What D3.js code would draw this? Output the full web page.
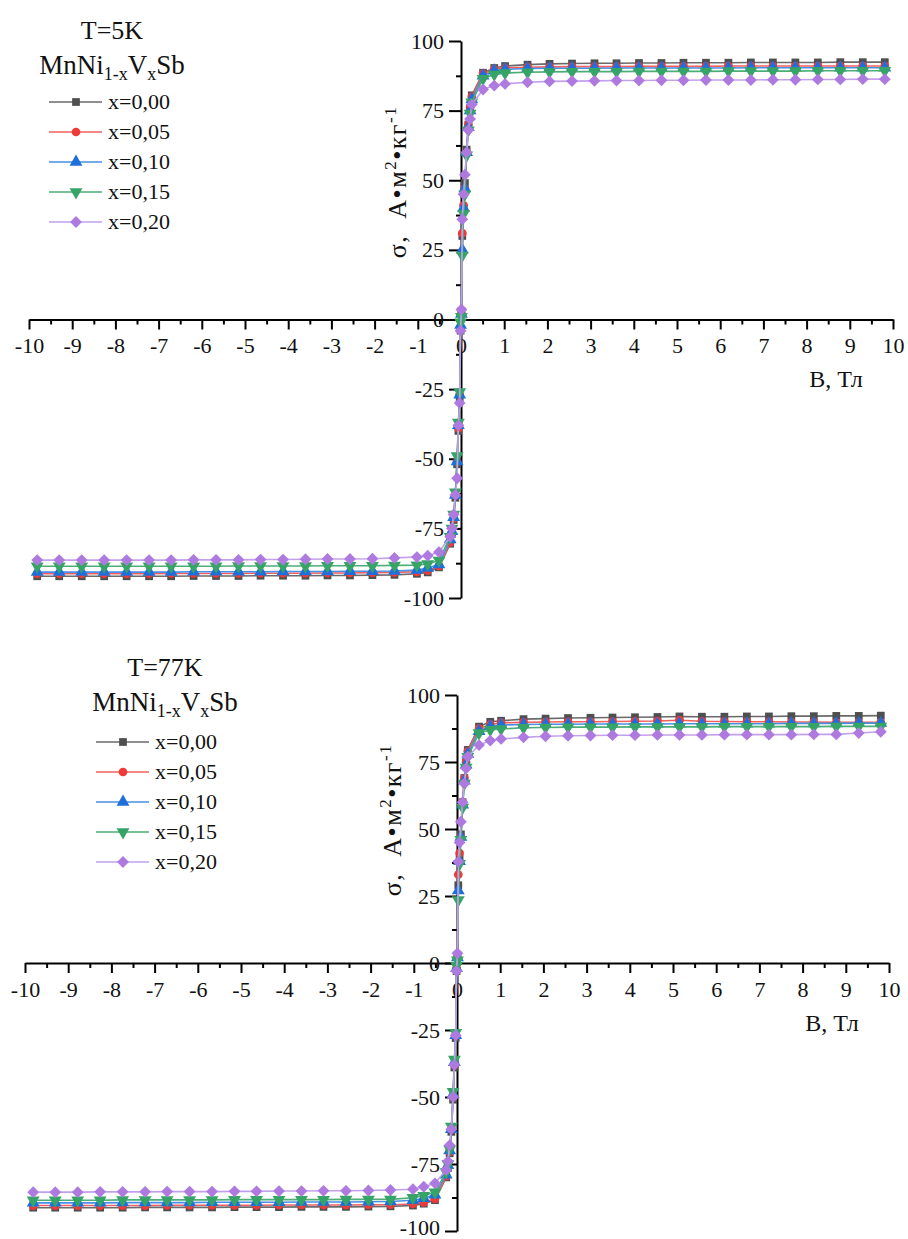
<!DOCTYPE html>
<html>
<head>
<meta charset="utf-8">
<script src="https://cdn.jsdelivr.net/npm/d3@7"></script>
<style>
  body { margin: 0; background: white; }
  svg text { font-family: "Liberation Serif", "Times New Roman", serif; fill: #111; }
</style>
</head>
<body>
<div class="display"></div>
<script>
// field points, Tl (shared by all curves)
const fieldB = [-9.81,-9.3,-8.78,-8.26,-7.74,-7.22,-6.71,-6.19,-5.67,-5.15,-4.64,-4.12,-3.6,-3.09,-2.57,-2.05,-1.54,-1.02,-0.77,-0.51,-0.25,-0.21,-0.17,-0.13,-0.09,-0.06,-0.03,-0.01,
    0.01,0.03,0.06,0.09,0.13,0.17,0.21,0.25,0.51,0.77,1.02,1.54,2.05,2.57,3.09,3.6,4.12,4.64,5.15,5.67,6.19,6.71,7.22,7.74,8.26,8.78,9.3,9.81];

const seriesNames = ['x=0,00', 'x=0,05', 'x=0,10', 'x=0,15', 'x=0,20'];

// T = 5K
const sig5K_000 = [-92.2,-92.2,-92.2,-92.2,-92.2,-92.2,-92.2,-92.1,-92.1,-92.1,-92.0,-92.0,-92.0,-91.9,-91.9,-91.8,-91.7,-91.3,-90.8,-89.0,-80.5,-77,-72,-64,-52,-40,-28,-4,
    3,30,40,49,61,70,76,80.5,88.6,90.3,91.0,91.5,91.8,91.9,92.0,92.0,92.1,92.1,92.2,92.2,92.2,92.3,92.3,92.3,92.3,92.4,92.4,92.4];
const sig5K_005 = [-91.3,-91.3,-91.3,-91.3,-91.3,-91.3,-91.2,-91.2,-91.2,-91.2,-91.1,-91.1,-91.1,-91.0,-91.0,-90.9,-90.8,-90.6,-90.2,-88.6,-80,-76.5,-71.5,-63,-51,-39,-27,-3,
    2,31,41,47,60,70,76,80,88.3,89.8,90.3,90.6,90.7,90.8,90.8,90.8,90.9,90.9,90.9,90.9,91.0,91.0,91.0,91.0,91.0,91.0,91.0,91.0];
const sig5K_010 = [-90.7,-90.7,-90.7,-90.7,-90.7,-90.7,-90.7,-90.6,-90.6,-90.6,-90.6,-90.5,-90.5,-90.5,-90.4,-90.4,-90.3,-90.0,-89.2,-88.0,-79,-76,-71,-63,-51,-38,-27,-2,
    2,25,40,47,60,69,75,79,87.5,89.3,89.8,90.1,90.2,90.2,90.2,90.3,90.3,90.3,90.3,90.3,90.3,90.4,90.4,90.4,90.4,90.4,90.4,90.4];
const sig5K_015 = [-88.6,-88.6,-88.6,-88.6,-88.6,-88.6,-88.6,-88.6,-88.6,-88.5,-88.5,-88.5,-88.5,-88.4,-88.4,-88.4,-88.3,-88.2,-87.8,-86.5,-78,-75,-70,-62,-49,-37,-26,-1,
    1,23,38,45,59,68,74,78,86.5,88.0,88.5,88.8,88.9,89.0,89.0,89.0,89.1,89.1,89.1,89.1,89.2,89.2,89.2,89.2,89.3,89.3,89.3,89.3];
const sig5K_020 = [-86.4,-86.4,-86.4,-86.4,-86.4,-86.4,-86.4,-86.3,-86.3,-86.3,-86.2,-86.2,-86.1,-86.0,-86.0,-85.9,-85.6,-85.3,-84.8,-83.5,-78,-75,-70,-63,-57,-38,-30,-4,
    3.6,36,45,52,60,68,72,77.2,82.6,84.0,84.6,85.2,85.5,85.6,85.7,85.8,85.8,85.9,85.9,86.0,86.0,86.0,86.1,86.1,86.2,86.2,86.3,86.3];

// T = 77K
const sig77K_000 = [-91.3,-91.3,-91.3,-91.3,-91.3,-91.2,-91.2,-91.2,-91.2,-91.1,-91.1,-91.1,-91.0,-91.0,-91.0,-90.9,-90.8,-90.5,-89.8,-88.5,-80,-76.5,-71,-63,-51,-39,-28,-3,
    3,29,39,48,60,69,75,79.5,88.2,90.0,90.4,91.0,91.2,91.4,91.5,91.6,91.7,91.8,92.0,91.9,91.9,92.0,92.0,92.1,92.1,92.2,92.2,92.3];
const sig77K_005 = [-90.5,-90.5,-90.5,-90.5,-90.5,-90.5,-90.4,-90.4,-90.4,-90.4,-90.4,-90.3,-90.3,-90.3,-90.3,-90.2,-90.2,-89.9,-89.3,-88.0,-79.5,-76,-70.5,-62,-50,-38,-27,-2,
    2,33,41,47,60,69,75,79,87.5,89.0,89.6,89.8,89.9,90.0,90.0,90.1,90.2,90.3,90.6,90.2,90.1,90.0,90.0,89.9,89.9,89.8,89.8,89.8];
const sig77K_010 = [-89.5,-89.5,-89.5,-89.5,-89.4,-89.4,-89.4,-89.4,-89.3,-89.3,-89.3,-89.3,-89.2,-89.2,-89.2,-89.1,-89.0,-88.5,-87.8,-86.5,-79,-75.5,-70,-62,-49,-37,-27,-2,
    2,27,38,47,59,68,74,78,86.5,88.3,88.8,89.0,89.1,89.1,89.2,89.2,89.2,89.2,89.3,89.3,89.3,89.3,89.3,89.4,89.4,89.4,89.5,89.5];
const sig77K_015 = [-88.5,-88.5,-88.5,-88.5,-88.4,-88.4,-88.4,-88.4,-88.4,-88.3,-88.3,-88.3,-88.3,-88.3,-88.2,-88.2,-88.2,-87.6,-86.8,-85.5,-78,-75,-69.5,-61,-48,-36,-26,-1,
    1,23.5,37,46,58,67,73,77,85.8,87.0,87.3,87.8,87.9,88.0,88.0,88.0,88.1,88.1,88.1,88.1,88.2,88.2,88.2,88.2,88.2,88.3,88.3,88.3];
const sig77K_020 = [-85.5,-85.5,-85.5,-85.4,-85.4,-85.4,-85.3,-85.3,-85.3,-85.2,-85.2,-85.1,-85.1,-85.0,-85.0,-84.9,-84.7,-84.4,-83.5,-82.2,-77.2,-74,-68,-62,-50,-38,-27,-3,
    3.6,37.8,45,52.7,60,67,72.6,77,81.3,83.0,83.6,84.2,84.6,84.8,84.9,85.0,85.0,85.1,85.1,85.1,85.2,85.2,85.2,85.2,85.3,85.3,85.8,86.3];

const xTicks = d3.range(-10, 11, 1);
const yTicks = [-100, -75, -50, -25, 0, 25, 50, 75, 100];

const serif = '"Liberation Serif", "Times New Roman", serif';
const colors = ['#4f4f4f', '#ef3a3a', '#1f6fdb', '#36a466', '#ae7ae0'];
const lineColors = ['#6a6a6a', '#f06060', '#4a8ee6', '#4cae75', '#c3a0ec'];
const shapes = [d3.symbolSquare, d3.symbolCircle, d3.symbolTriangle, d3.symbolTriangle, d3.symbolSquare];
const shapeSize = [60, 60, 72, 72, 70];
const shapeRot = [0, 0, 0, 180, 45];

const width = 908;
const height = 1239;

const svg = d3.select('.display')
    .append('svg')
    .attr('width', width)
    .attr('height', height);

function marker(g, i, cx, cy) {
    g.append('path')
        .attr('d', d3.symbol().type(shapes[i]).size(shapeSize[i])())
        .attr('transform', `translate(${cx},${cy}) rotate(${shapeRot[i]})`)
        .attr('fill', colors[i]);
}

function drawPanel(p) {
    const g = svg.append('g');
    const xScale = d3.scaleLinear().domain([-10, 10]).range(p.xRange);
    const yScale = d3.scaleLinear().domain([-100, 100]).range(p.yRange);
    const x0 = xScale(0), y0 = yScale(0);

    // minor ticks
    g.append('g')
        .attr('transform', `translate(0,${y0})`)
        .call(d3.axisBottom(xScale).tickValues(d3.range(-9.5, 10, 1)).tickSize(5).tickFormat(''))
        .call(a => a.select('.domain').remove());
    g.append('g')
        .attr('transform', `translate(${x0},0)`)
        .call(d3.axisLeft(yScale).tickValues([-87.5, -62.5, -37.5, -12.5, 12.5, 37.5, 62.5, 87.5]).tickSize(5).tickFormat(''))
        .call(a => a.select('.domain').remove());

    const xAxis = g.append('g')
        .attr('transform', `translate(0,${y0})`)
        .call(d3.axisBottom(xScale).tickValues(xTicks).tickSize(10).tickSizeOuter(0).tickPadding(8).tickFormat(d => String(d)));
    const yAxis = g.append('g')
        .attr('transform', `translate(${x0},0)`)
        .call(d3.axisLeft(yScale).tickValues(yTicks).tickSize(12).tickSizeOuter(0).tickPadding(5).tickFormat(d => String(d)));

    [xAxis, yAxis].forEach(a => {
        a.attr('font-family', null);
        a.select('.domain').attr('stroke', '#000').attr('stroke-width', 2);
        a.selectAll('text')
            .style('font-family', serif)
            .style('font-size', '22px')
            .attr('fill', '#111');
    });
    g.selectAll('.tick line').attr('stroke', '#000').attr('stroke-width', 2);
    // keep the lowest label inside the page
    yAxis.selectAll('.tick text').filter(d => d === -100).attr('dy', p.bottomDy);

    // curves
    const line = d3.line().x(d => xScale(d[0])).y(d => yScale(d[1]));
    p.series.forEach((s, i) => {
        const pts = fieldB.map((b, k) => [b, s[k]]);
        g.append('path')
            .datum(pts)
            .attr('d', line)
            .attr('fill', 'none')
            .attr('stroke', lineColors[i])
            .attr('stroke-width', 1.6);
        pts.forEach(d => marker(g, i, xScale(d[0]), yScale(d[1])));
    });

    // axis titles
    g.append('text')
        .attr('x', p.xLabel[0])
        .attr('y', p.xLabel[1])
        .attr('text-anchor', 'middle')
        .style('font-size', '24px')
        .text('В, Тл');

    const yl = g.append('text')
        .attr('transform', `translate(${p.yLabel[0]},${p.yLabel[1]}) rotate(-90)`)
        .attr('text-anchor', 'middle')
        .style('font-size', '26px')
        .style('letter-spacing', '1.5px');
    yl.append('tspan').text('σ,\u00a0\u00a0А•м');
    yl.append('tspan').attr('dy', -10).style('font-size', '17px').text('2');
    yl.append('tspan').attr('dy', 10).text('•кг');
    yl.append('tspan').attr('dy', -10).style('font-size', '17px').text('-1');

    // legend
    const lg = g.append('g');
    lg.append('text')
        .attr('x', p.legend.cx)
        .attr('y', p.legend.titleY)
        .attr('text-anchor', 'middle')
        .style('font-size', '26px')
        .text(p.title);
    const f = lg.append('text')
        .attr('x', p.legend.cx)
        .attr('y', p.legend.titleY + 35)
        .attr('text-anchor', 'middle')
        .style('font-size', '27px');
    f.append('tspan').text('MnNi');
    f.append('tspan').attr('dy', 6).style('font-size', '18px').text('1-x');
    f.append('tspan').attr('dy', -6).text('V');
    f.append('tspan').attr('dy', 6).style('font-size', '18px').text('x');
    f.append('tspan').attr('dy', -6).text('Sb');

    seriesNames.forEach((name, i) => {
        const yy = p.legend.rowY + i * 30;
        lg.append('line')
            .attr('x1', p.legend.x1).attr('x2', p.legend.x1 + 53)
            .attr('y1', yy).attr('y2', yy)
            .attr('stroke', lineColors[i]).attr('stroke-width', 1.6);
        marker(lg, i, p.legend.x1 + 27, yy);
        lg.append('text')
            .attr('x', p.legend.x1 + 59)
            .attr('y', yy + 7)
            .style('font-size', '22px')
            .text(name);
    });
}

drawPanel({
    xRange: [29, 893], yRange: [598, 41],
    series: [sig5K_000, sig5K_005, sig5K_010, sig5K_015, sig5K_020],
    xLabel: [836, 387], yLabel: [406, 182],
    title: 'T=5K', bottomDy: '0.32em',
    legend: { cx: 112, titleY: 39, x1: 49, rowY: 102 }
});

drawPanel({
    xRange: [25, 889], yRange: [1231, 695],
    series: [sig77K_000, sig77K_005, sig77K_010, sig77K_015, sig77K_020],
    xLabel: [832, 1031], yLabel: [401, 820],
    title: 'T=77K', bottomDy: '0.18em',
    legend: { cx: 165, titleY: 676, x1: 96, rowY: 742 }
});
</script>
</body>
</html>
